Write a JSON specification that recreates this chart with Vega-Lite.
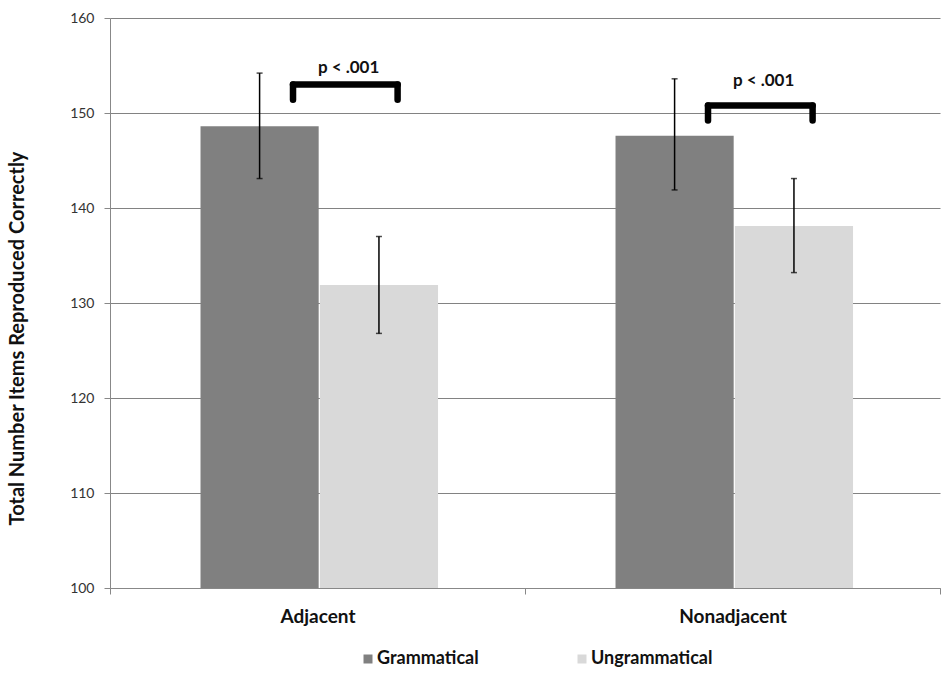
{
  "$schema": "https://vega.github.io/schema/vega-lite/v6.json",
  "width": 830,
  "height": 570,
  "autosize": "none",
  "padding": {"left": 110, "top": 18, "right": 10, "bottom": 87},
  "background": "white",
  "datasets": {
    "bars": [
      {"condition": "Adjacent", "type": "Grammatical", "mean": 148.6, "lo": 143.1, "hi": 154.2},
      {"condition": "Adjacent", "type": "Ungrammatical", "mean": 131.9, "lo": 126.8, "hi": 137.0},
      {"condition": "Nonadjacent", "type": "Grammatical", "mean": 147.6, "lo": 141.9, "hi": 153.6},
      {"condition": "Nonadjacent", "type": "Ungrammatical", "mean": 138.1, "lo": 133.2, "hi": 143.1}
    ],
    "brackets": [
      {"condition": "Adjacent", "top": 153.0, "bottom": 151.4, "labelY": 154.75, "text": "p < .001"},
      {"condition": "Nonadjacent", "top": 150.8, "bottom": 149.2, "labelY": 153.4, "text": "p < .001"}
    ]
  },
  "encoding": {
    "x": {
      "field": "condition",
      "type": "nominal",
      "sort": ["Adjacent", "Nonadjacent"],
      "scale": {"paddingInner": 0, "paddingOuter": 0},
      "axis": {
        "title": null,
        "labelAngle": 0,
        "tickBand": "extent",
        "labelFont": "Lato",
        "labelFontSize": 19,
        "labelFontWeight": "bold",
        "labelColor": "#111",
        "labelPadding": 13,
        "domainColor": "#888",
        "tickColor": "#888",
        "tickSize": 6,
        "grid": false
      }
    }
  },
  "layer": [
    {
      "data": {"name": "bars"},
      "mark": {"type": "bar"},
      "encoding": {
        "xOffset": {
          "field": "type",
          "type": "nominal",
          "scale": {"type": "band", "domain": ["Grammatical", "Ungrammatical"], "paddingInner": 0.01, "paddingOuter": 0.7435, "align": 0.51}
        },
        "y": {
          "field": "mean",
          "type": "quantitative",
          "scale": {"domain": [100, 160], "zero": false, "nice": false},
          "axis": {
            "title": "Total Number Items Reproduced Correctly",
            "values": [100, 110, 120, 130, 140, 150, 160],
            "grid": true,
            "gridColor": "#828282",
            "gridWidth": 1.2,
            "domainColor": "#888",
            "tickColor": "#888",
            "tickSize": 6,
            "labelFont": "Lato",
            "labelFontSize": 14,
            "labelColor": "#333",
            "labelPadding": 10,
            "titleFont": "Lato",
            "titleFontSize": 20,
            "titleFontWeight": "bold",
            "titleColor": "#111",
            "titleAngle": -90,
            "titleX": -93,
            "titleY": 320,
            "titleAlign": "center",
            "titleBaseline": "middle"
          }
        },
        "y2": {"datum": 100},
        "color": {
          "field": "type",
          "type": "nominal",
          "scale": {"domain": ["Grammatical", "Ungrammatical"], "range": ["#808080", "#d9d9d9"]},
          "legend": {
            "title": null,
            "orient": "none",
            "direction": "horizontal",
            "legendX": 249,
            "legendY": 632,
            "symbolType": "square",
            "symbolSize": 81,
            "symbolStrokeWidth": 0,
            "labelFont": "Lato",
            "labelFontSize": 18,
            "labelFontWeight": "bold",
            "labelColor": "#111",
            "labelOffset": 0,
            "columnPadding": 94
          }
        }
      }
    },
    {
      "data": {"name": "bars"},
      "mark": {"type": "rule", "color": "black", "strokeWidth": 1.5},
      "encoding": {
        "xOffset": {
          "field": "type",
          "type": "nominal",
          "scale": {"type": "band", "domain": ["Grammatical", "Ungrammatical"], "paddingInner": 0.01, "paddingOuter": 0.7435, "align": 0.51}
        },
        "y": {"field": "lo", "type": "quantitative"},
        "y2": {"field": "hi"}
      }
    },
    {
      "data": {"name": "bars"},
      "mark": {"type": "tick", "color": "black", "size": 6, "thickness": 1.5, "orient": "horizontal"},
      "encoding": {
        "xOffset": {
          "field": "type",
          "type": "nominal",
          "scale": {"type": "band", "domain": ["Grammatical", "Ungrammatical"], "paddingInner": 0.01, "paddingOuter": 0.7435, "align": 0.51}
        },
        "y": {"field": "lo", "type": "quantitative"}
      }
    },
    {
      "data": {"name": "bars"},
      "mark": {"type": "tick", "color": "black", "size": 6, "thickness": 1.5, "orient": "horizontal"},
      "encoding": {
        "xOffset": {
          "field": "type",
          "type": "nominal",
          "scale": {"type": "band", "domain": ["Grammatical", "Ungrammatical"], "paddingInner": 0.01, "paddingOuter": 0.7435, "align": 0.51}
        },
        "y": {"field": "hi", "type": "quantitative"}
      }
    },
    {
      "data": {"name": "brackets"},
      "mark": {"type": "rule", "color": "black", "strokeWidth": 6.5, "strokeCap": "round"},
      "encoding": {
        "x": {"field": "condition", "type": "nominal", "bandPosition": 0.441},
        "x2": {"field": "condition", "bandPosition": 0.693},
        "y": {"field": "top", "type": "quantitative"}
      }
    },
    {
      "data": {"name": "brackets"},
      "mark": {"type": "rule", "color": "black", "strokeWidth": 6.5, "strokeCap": "round"},
      "encoding": {
        "x": {"field": "condition", "type": "nominal", "bandPosition": 0.441},
        "y": {"field": "bottom", "type": "quantitative"},
        "y2": {"field": "top"}
      }
    },
    {
      "data": {"name": "brackets"},
      "mark": {"type": "rule", "color": "black", "strokeWidth": 6.5, "strokeCap": "round"},
      "encoding": {
        "x": {"field": "condition", "type": "nominal", "bandPosition": 0.693},
        "y": {"field": "bottom", "type": "quantitative"},
        "y2": {"field": "top"}
      }
    },
    {
      "data": {"name": "brackets"},
      "mark": {"type": "text", "font": "Lato", "fontSize": 17, "fontWeight": "bold", "color": "#111", "baseline": "middle"},
      "encoding": {
        "x": {"field": "condition", "type": "nominal", "bandPosition": 0.575},
        "y": {"field": "labelY", "type": "quantitative"},
        "text": {"field": "text"}
      }
    }
  ],
  "resolve": {"scale": {"xOffset": "independent"}},
  "config": {
    "view": {"stroke": null},
    "font": "Lato"
  }
}
